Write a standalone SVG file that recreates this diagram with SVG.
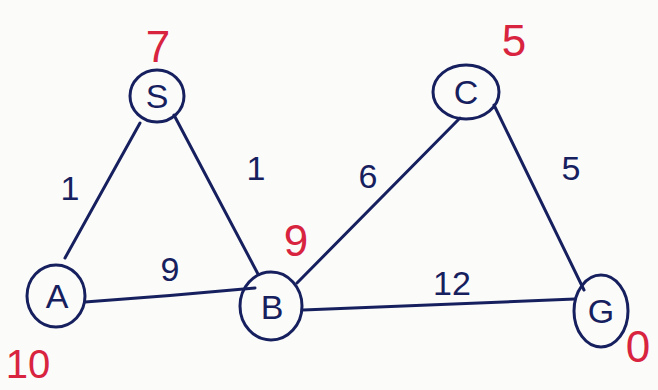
<svg xmlns="http://www.w3.org/2000/svg" width="658" height="390" viewBox="0 0 658 390">
<style>
.node{fill:none;stroke:#17205e;stroke-width:3}
.lbl{font-family:"Liberation Sans",Arial,sans-serif;font-size:34px;fill:#17205e;text-anchor:middle}
.w{font-family:"Liberation Sans",Arial,sans-serif;font-size:34px;fill:#17205e;text-anchor:middle}
.h{font-family:"Liberation Sans",Arial,sans-serif;font-size:44px;fill:#d8243f;text-anchor:middle}
.e{stroke:#17205e;stroke-width:3;fill:none;stroke-linecap:round}
</style>
<rect width="658" height="390" fill="#fbfbfa"/>
<g id="edges">
<path class="e" d="M140 123 L65 258"/>
<path class="e" d="M174 115 L258 274"/>
<path class="e" d="M85 302 Q170 296 255 288"/>
<path class="e" d="M297 283 L460 118"/>
<path class="e" d="M494 105 L584 290"/>
<path class="e" d="M303 310 L575 299"/>
<text class="w" x="70" y="200">1</text>
<text class="w" x="256" y="180">1</text>
<text class="w" x="170" y="281">9</text>
<text class="w" x="368" y="188">6</text>
<text class="w" x="571" y="180">5</text>
<text class="w" x="452" y="295">12</text>
</g>
<g id="S"><ellipse class="node" cx="157" cy="96" rx="27" ry="26"/><text class="lbl" x="157" y="108">S</text><text class="h" x="158" y="62">7</text></g>
<g id="A"><ellipse class="node" cx="56" cy="296" rx="29" ry="31"/><text class="lbl" x="57" y="308">A</text><text class="h" x="28" y="378" style="font-size:40px">10</text></g>
<g id="B"><ellipse class="node" cx="271" cy="306" rx="31" ry="34"/><text class="lbl" x="272" y="319">B</text><text class="h" x="296" y="256">9</text></g>
<g id="C"><ellipse class="node" cx="466" cy="92" rx="33" ry="27"/><text class="lbl" x="466" y="104">C</text><text class="h" x="514" y="56">5</text></g>
<g id="G"><ellipse class="node" cx="601" cy="311" rx="27" ry="36"/><text class="lbl" x="601" y="323">G</text><text class="h" x="638" y="362">0</text></g>
</svg>
